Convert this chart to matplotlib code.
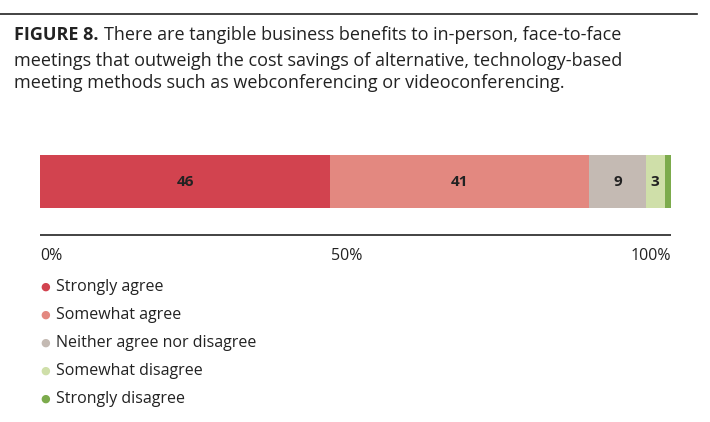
import matplotlib
matplotlib.use("Agg")
import matplotlib.pyplot as plt

categories = ["Strongly agree", "Somewhat agree", "Neither agree nor disagree",
              "Somewhat disagree", "Strongly disagree"]
values = [46, 41, 9, 3, 1]
shown_labels = ["46", "41", "9", "3", ""]
colors = ["#d2434f", "#e38880", "#c4bab3", "#cfdfa9", "#7cab4c"]
tick_vals = [0, 50, 100]
tick_labels = ["0%", "50%", "100%"]

W, H = 710, 422
fig = plt.figure(figsize=(W/100, H/100), dpi=100)
fig.patch.set_facecolor("white")
font = "Open Sans"

fig.add_artist(plt.Line2D([0, 697/W], [1-14/H, 1-14/H], color="#222222", lw=1.2))

t1 = fig.text(14/W, 1-26/H, "FIGURE 8.", fontsize=13, fontweight="bold", color="#222222",
              family=font, va="top")
r = fig.canvas.get_renderer()
bb = t1.get_window_extent(r)
fig.text((bb.x1 + 6)/W, 1-26/H, "There are tangible business benefits to in-person, face-to-face",
         fontsize=13, color="#222222", family=font, va="top")
fig.text(14/W, 1-52/H,
         "meetings that outweigh the cost savings of alternative, technology-based\n"
         "meeting methods such as webconferencing or videoconferencing.",
         fontsize=13, color="#222222", family=font, va="top", linespacing=1.3)

x0, x1 = 40, 671
ax = fig.add_axes([x0/W, 1-236/H, (x1-x0)/W, (236-150)/H])
ax.set_xlim(0, 100)
ax.set_ylim(0, 86)
left = 0
for v, c, lab in zip(values, colors, shown_labels):
    ax.barh(28+26.5, v, left=left, height=53, color=c, edgecolor="none")
    if lab:
        ax.text(left + v/2, 54.5, lab, ha="center", va="center", fontsize=11,
                fontweight="bold", color="#222222", family=font)
    left += v
ax.axhline(1, color="#222222", lw=1.2)
ax.axis("off")

for tv, tl in zip(tick_vals, tick_labels):
    ha = "left" if tv == 0 else ("right" if tv == 100 else "center")
    xx = x0 + (x1-x0)*tv/100 - (9 if tv == 50 else 0)
    fig.text(xx/W, 1-256/H, tl, ha=ha, va="center", fontsize=11.5, color="#222222", family=font)

for i, (cat, c) in enumerate(zip(categories, colors)):
    y = 287 + i*28
    fig.text(40/W, 1-y/H, "\u25CF", color=c, fontsize=8, va="center", ha="left")
    fig.text(56/W, 1-y/H, cat, color="#222222", fontsize=11.5, va="center", ha="left", family=font)

fig.savefig("out.png", dpi=100)
